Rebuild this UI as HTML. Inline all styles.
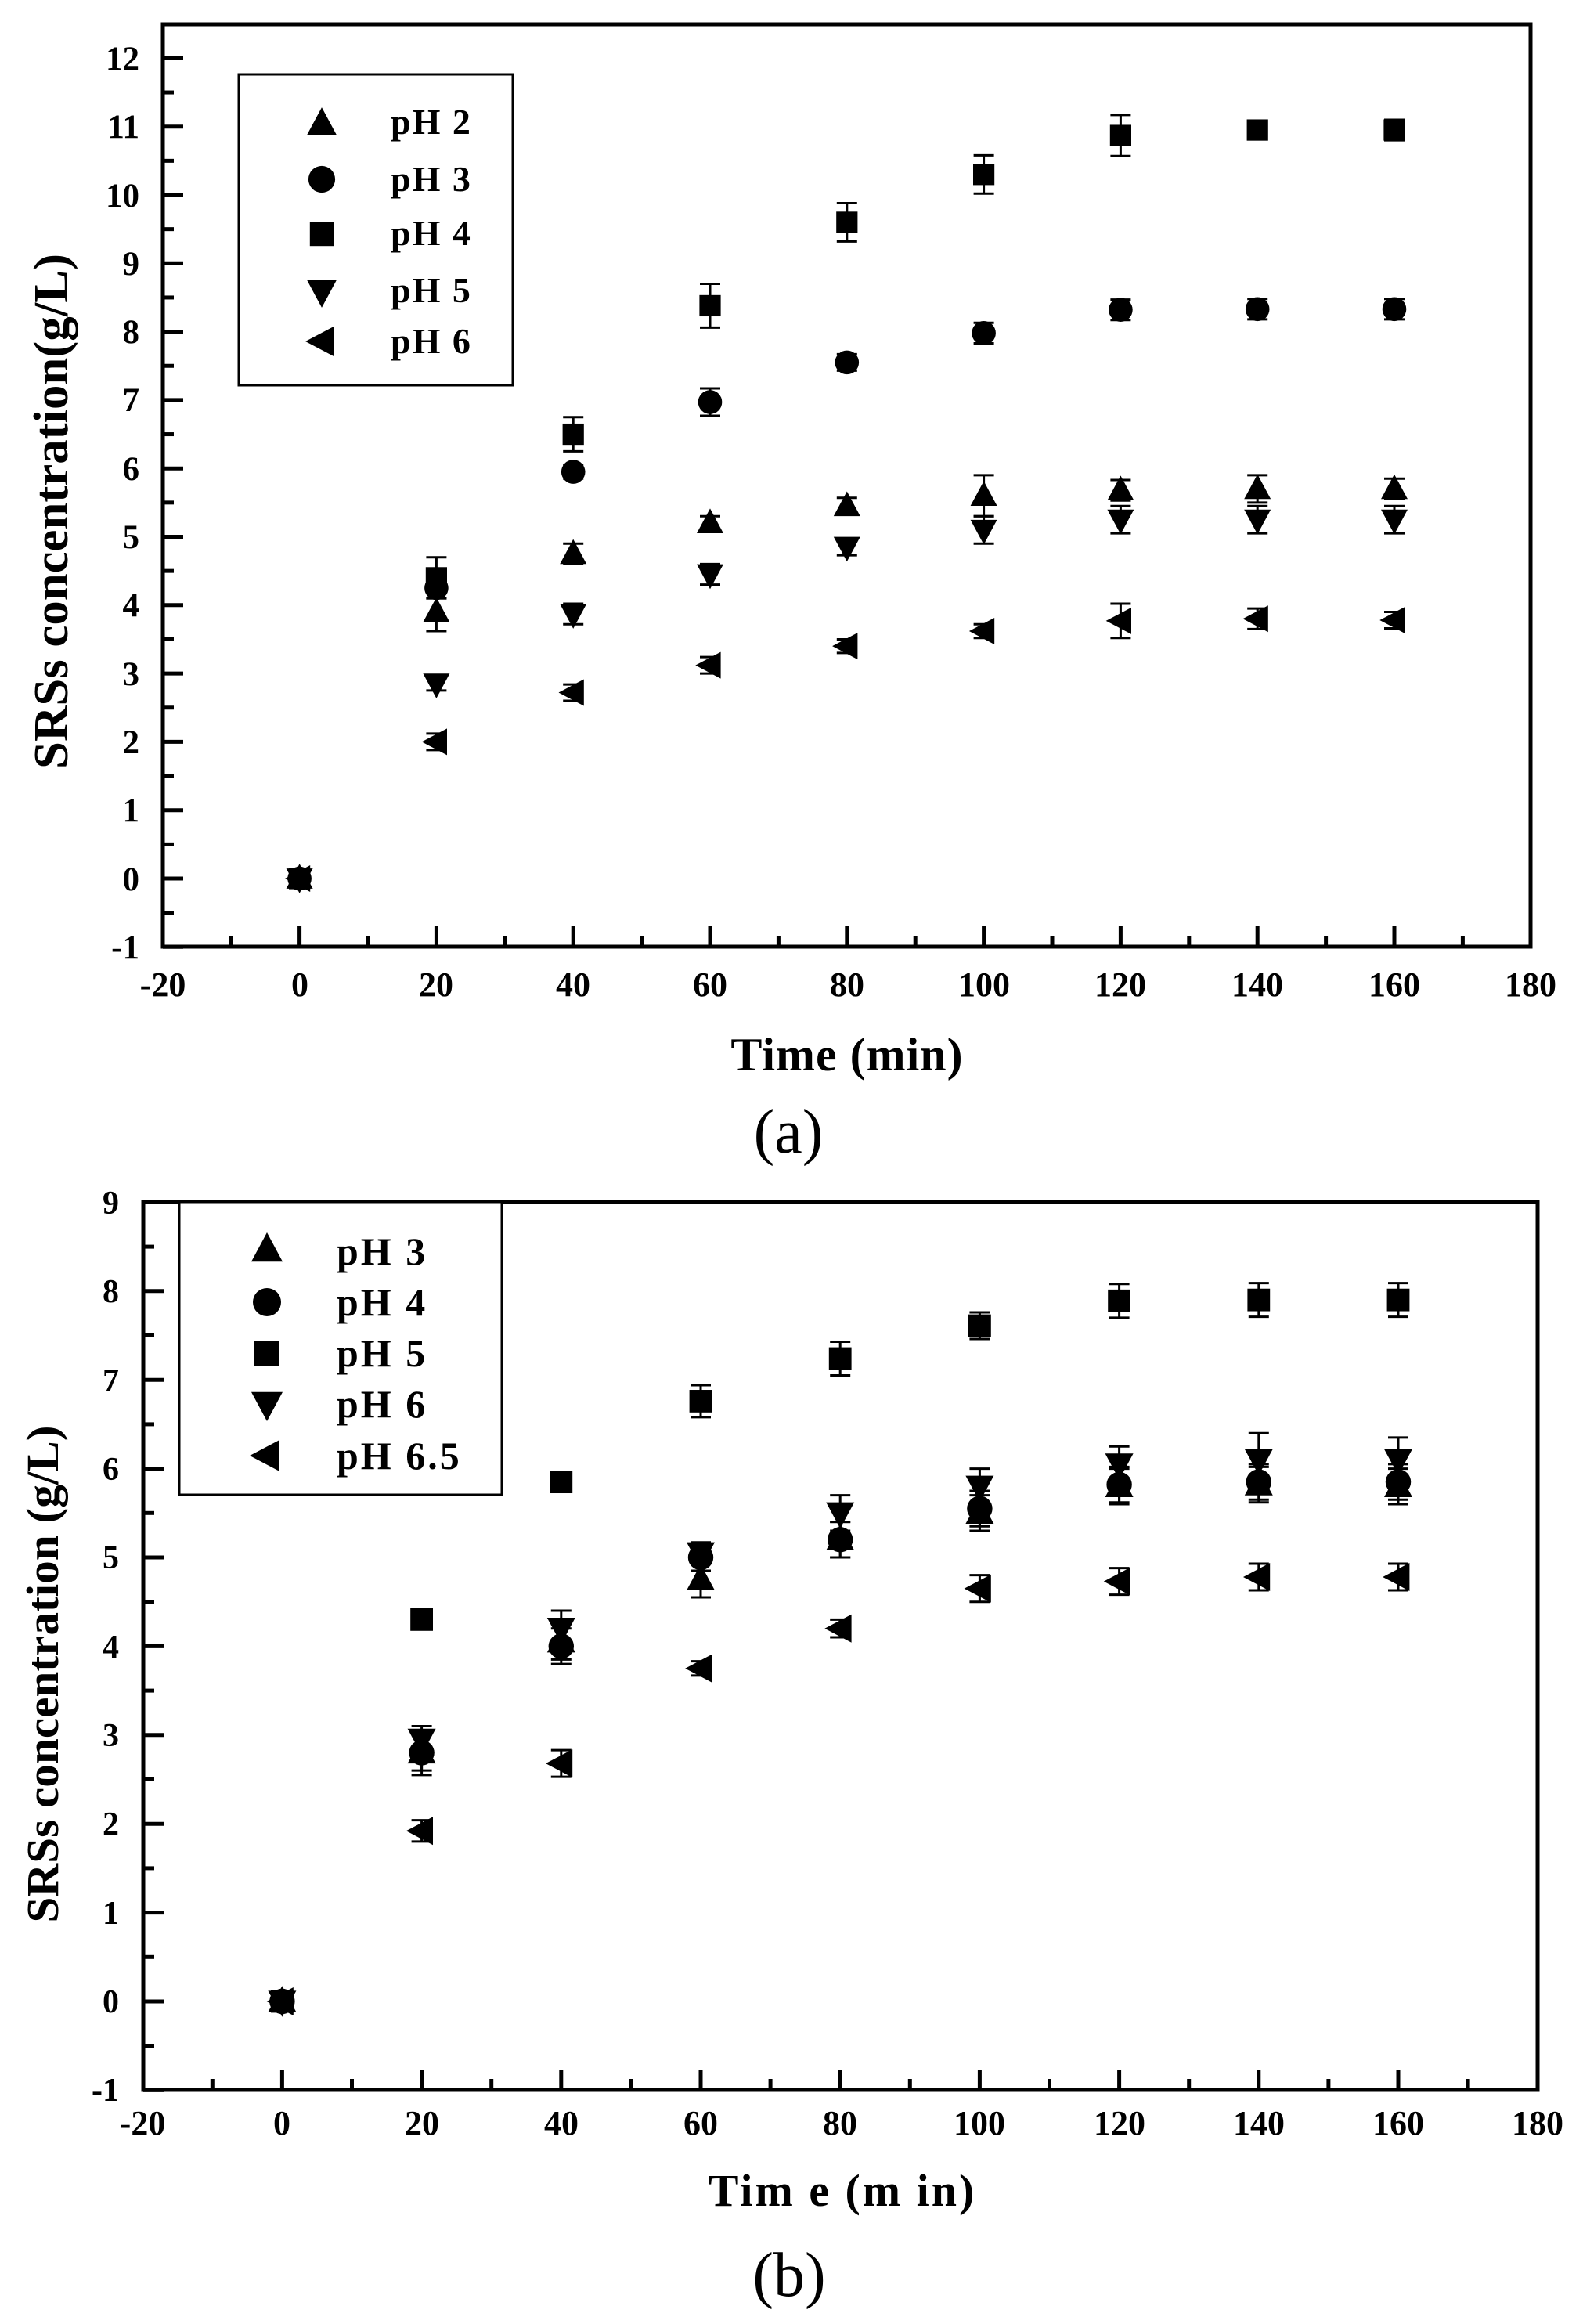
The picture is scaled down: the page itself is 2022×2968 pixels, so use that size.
<!DOCTYPE html>
<html><head><meta charset="utf-8">
<style>
html,body{margin:0;padding:0;background:#fff;}
svg{display:block;}
text{font-family:"Liberation Serif","Times New Roman",serif;font-weight:bold;fill:#000;}
</style></head>
<body>
<svg id="s" width="2022" height="2968" viewBox="0 0 2022 2968" xmlns="http://www.w3.org/2000/svg">
<rect width="2022" height="2968" fill="#fff"/>
<g id="g"></g>
<g font-size="43" text-anchor="end">
<text x="178" y="89">12</text><text x="178" y="176">11</text><text x="178" y="264">10</text>
<text x="178" y="351">9</text><text x="178" y="438">8</text><text x="178" y="525">7</text>
<text x="178" y="613">6</text><text x="178" y="700">5</text><text x="178" y="787">4</text>
<text x="178" y="875">3</text><text x="178" y="962">2</text><text x="178" y="1049">1</text>
<text x="178" y="1137">0</text><text x="178" y="1224">-1</text>
</g>
<g font-size="44" text-anchor="middle">
<text x="208" y="1272">-20</text><text x="383" y="1272">0</text><text x="557" y="1272">20</text>
<text x="732" y="1272">40</text><text x="907" y="1272">60</text><text x="1082" y="1272">80</text>
<text x="1257" y="1272">100</text><text x="1431" y="1272">120</text><text x="1606" y="1272">140</text>
<text x="1781" y="1272">160</text><text x="1955" y="1272">180</text>
</g>
<text x="1082" y="1367" font-size="60" text-anchor="middle" letter-spacing="1">Time (min)</text>
<text x="1007" y="1472" font-size="80" text-anchor="middle" style="font-weight:normal">(a)</text>
<text transform="translate(86,653) rotate(-90)" font-size="62" text-anchor="middle" textLength="658" lengthAdjust="spacingAndGlyphs">SRSs concentration(g/L)</text>
<g font-size="46" letter-spacing="2">
<text x="499" y="171">pH 2</text><text x="499" y="244">pH 3</text><text x="499" y="313">pH 4</text>
<text x="499" y="386">pH 5</text><text x="499" y="451">pH 6</text>
</g>
<g font-size="42" text-anchor="end">
<text x="152" y="1550">9</text><text x="152" y="1663">8</text><text x="152" y="1777">7</text>
<text x="152" y="1890">6</text><text x="152" y="2003">5</text><text x="152" y="2117">4</text>
<text x="152" y="2230">3</text><text x="152" y="2343">2</text><text x="152" y="2457">1</text>
<text x="152" y="2570">0</text><text x="152" y="2683">-1</text>
</g>
<g font-size="44" text-anchor="middle">
<text x="182" y="2726">-20</text><text x="360" y="2726">0</text><text x="539" y="2726">20</text>
<text x="717" y="2726">40</text><text x="895" y="2726">60</text><text x="1073" y="2726">80</text>
<text x="1251" y="2726">100</text><text x="1430" y="2726">120</text><text x="1608" y="2726">140</text>
<text x="1786" y="2726">160</text><text x="1964" y="2726">180</text>
</g>
<text x="1076" y="2817" font-size="58" text-anchor="middle" letter-spacing="3">Tim e (m in)</text>
<text x="1008" y="2932" font-size="80" text-anchor="middle" style="font-weight:normal">(b)</text>
<text transform="translate(74,2138) rotate(-90)" font-size="58" text-anchor="middle" textLength="635" lengthAdjust="spacingAndGlyphs">SRSs concentration (g/L)</text>
<g font-size="50" letter-spacing="3">
<text x="430" y="1615">pH  3</text><text x="430" y="1680">pH  4</text><text x="430" y="1745">pH  5</text>
<text x="430" y="1810">pH  6</text><text x="430" y="1876">pH  6.5</text>
</g>
</svg>
<script>
(function(){
var NS="http://www.w3.org/2000/svg",g=document.getElementById("g");
function el(n,a){var e=document.createElementNS(NS,n);for(var k in a)e.setAttribute(k,a[k]);g.appendChild(e);return e;}
function line(x1,y1,x2,y2,w){el("line",{x1:x1,y1:y1,x2:x2,y2:y2,stroke:"#000","stroke-width":w});}
function marker(type,cx,cy,s){
 if(type=="c"){el("circle",{cx:cx,cy:cy,r:s*0.45,fill:"#000"});return;}
 if(type=="s"){var h=s*0.4;el("rect",{x:cx-h,y:cy-h,width:2*h,height:2*h,fill:"#000"});return;}
 var p;
 if(type=="u")p=[[0,-s*0.55],[s/2,s*0.38],[-s/2,s*0.38]];
 if(type=="d")p=[[0,s*0.55],[s/2,-s*0.38],[-s/2,-s*0.38]];
 if(type=="l")p=[[-s*0.55,0],[s*0.4,-s/2],[s*0.4,s/2]];
 el("polygon",{points:p.map(function(q){return (cx+q[0])+","+(cy+q[1]);}).join(" "),fill:"#000"});
}
function plot(P){
 var X=function(t){return P.x0+P.xs*t;},Y=function(v){return P.y0-P.ys*v;};
 el("rect",{x:P.L,y:P.T,width:P.R-P.L,height:P.B-P.T,fill:"none",stroke:"#000","stroke-width":5});
 for(var v=P.vmin;v<=P.vmax+0.01;v+=0.5){var y=Y(v);if(y<P.T+3)continue;var maj=Math.abs(v-Math.round(v))<0.01;line(P.L,y,P.L+(maj?26:14),y,5);}
 for(var t=-20;t<=180;t+=10){var x=X(t);if(x<P.L+3||x>P.R-3)continue;var maj=(t%20==0);line(x,P.B,x,P.B-(maj?26:14),5);}
 el("rect",{x:P.lg[0],y:P.lg[1],width:P.lg[2]-P.lg[0],height:P.lg[3]-P.lg[1],fill:"#fff",stroke:"#000","stroke-width":3});
 P.series.forEach(function(S,i){marker(S.m,P.lmx,P.lrows[i],P.ls);});
 P.series.forEach(function(S){
  marker(S.m,X(0),Y(0),P.ms);
  S.d.forEach(function(d){var x=X(d[0]),y1=Y(d[1]+d[2]),y2=Y(d[1]-d[2]);
   line(x,y1,x,y2,3);line(x-13,y1,x+13,y1,3);line(x-13,y2,x+13,y2,3);
   marker(S.m,x,Y(d[1]),P.ms);});
 });
}
plot({L:208,R:1955,T:31,B:1209,x0:382.6,xs:8.74,y0:1122,ys:87.3,vmin:-1,vmax:12.5,
 lg:[305,95,655,492],lmx:411,lrows:[158,229,299,372,436],ls:38,ms:34,
 series:[
 {m:"u",d:[[20,3.9,0.28],[40,4.75,0.15],[60,5.2,0.1],[80,5.45,0.12],[100,5.6,0.3],[120,5.68,0.15],[140,5.7,0.2],[160,5.7,0.15]]},
 {m:"c",d:[[20,4.25,0.15],[40,5.95,0.1],[60,6.97,0.2],[80,7.55,0.12],[100,7.98,0.15],[120,8.32,0.15],[140,8.33,0.15],[160,8.33,0.15]]},
 {m:"s",d:[[20,4.4,0.3],[40,6.5,0.25],[60,8.38,0.32],[80,9.6,0.28],[100,10.3,0.28],[120,10.87,0.3],[140,10.95,0.1],[160,10.95,0.15]]},
 {m:"d",d:[[20,2.85,0.1],[40,3.87,0.15],[60,4.45,0.15],[80,4.85,0.12],[100,5.1,0.2],[120,5.25,0.2],[140,5.25,0.2],[160,5.25,0.2]]},
 {m:"l",d:[[20,2.0,0.12],[40,2.72,0.12],[60,3.12,0.12],[80,3.4,0.1],[100,3.62,0.1],[120,3.77,0.25],[140,3.8,0.15],[160,3.78,0.12]]}
 ]});
plot({L:183,R:1964,T:1535,B:2669,x0:360.4,xs:8.91,y0:2556,ys:113.4,vmin:-1,vmax:9,
 lg:[229,1535,641,1909],lmx:341,lrows:[1596,1663,1728,1793,1859],ls:40,ms:36,
 series:[
 {m:"u",d:[[20,2.8,0.25],[40,4.05,0.2],[60,4.75,0.2],[80,5.2,0.2],[100,5.5,0.2],[120,5.8,0.2],[140,5.82,0.2],[160,5.8,0.2]]},
 {m:"c",d:[[20,2.8,0.2],[40,4.0,0.2],[60,5.0,0.15],[80,5.2,0.2],[100,5.55,0.2],[120,5.82,0.2],[140,5.85,0.2],[160,5.85,0.2]]},
 {m:"s",d:[[20,4.3,0.08],[40,5.85,0.08],[60,6.76,0.18],[80,7.24,0.19],[100,7.61,0.15],[120,7.89,0.19],[140,7.9,0.19],[160,7.9,0.19]]},
 {m:"d",d:[[20,2.95,0.15],[40,4.2,0.2],[60,5.05,0.12],[80,5.5,0.2],[100,5.8,0.2],[120,6.05,0.2],[140,6.1,0.3],[160,6.1,0.25]]},
 {m:"l",d:[[20,1.92,0.12],[40,2.68,0.15],[60,3.75,0.08],[80,4.2,0.1],[100,4.65,0.15],[120,4.73,0.15],[140,4.78,0.15],[160,4.78,0.15]]}
 ]});
})();
</script>
</body></html>
